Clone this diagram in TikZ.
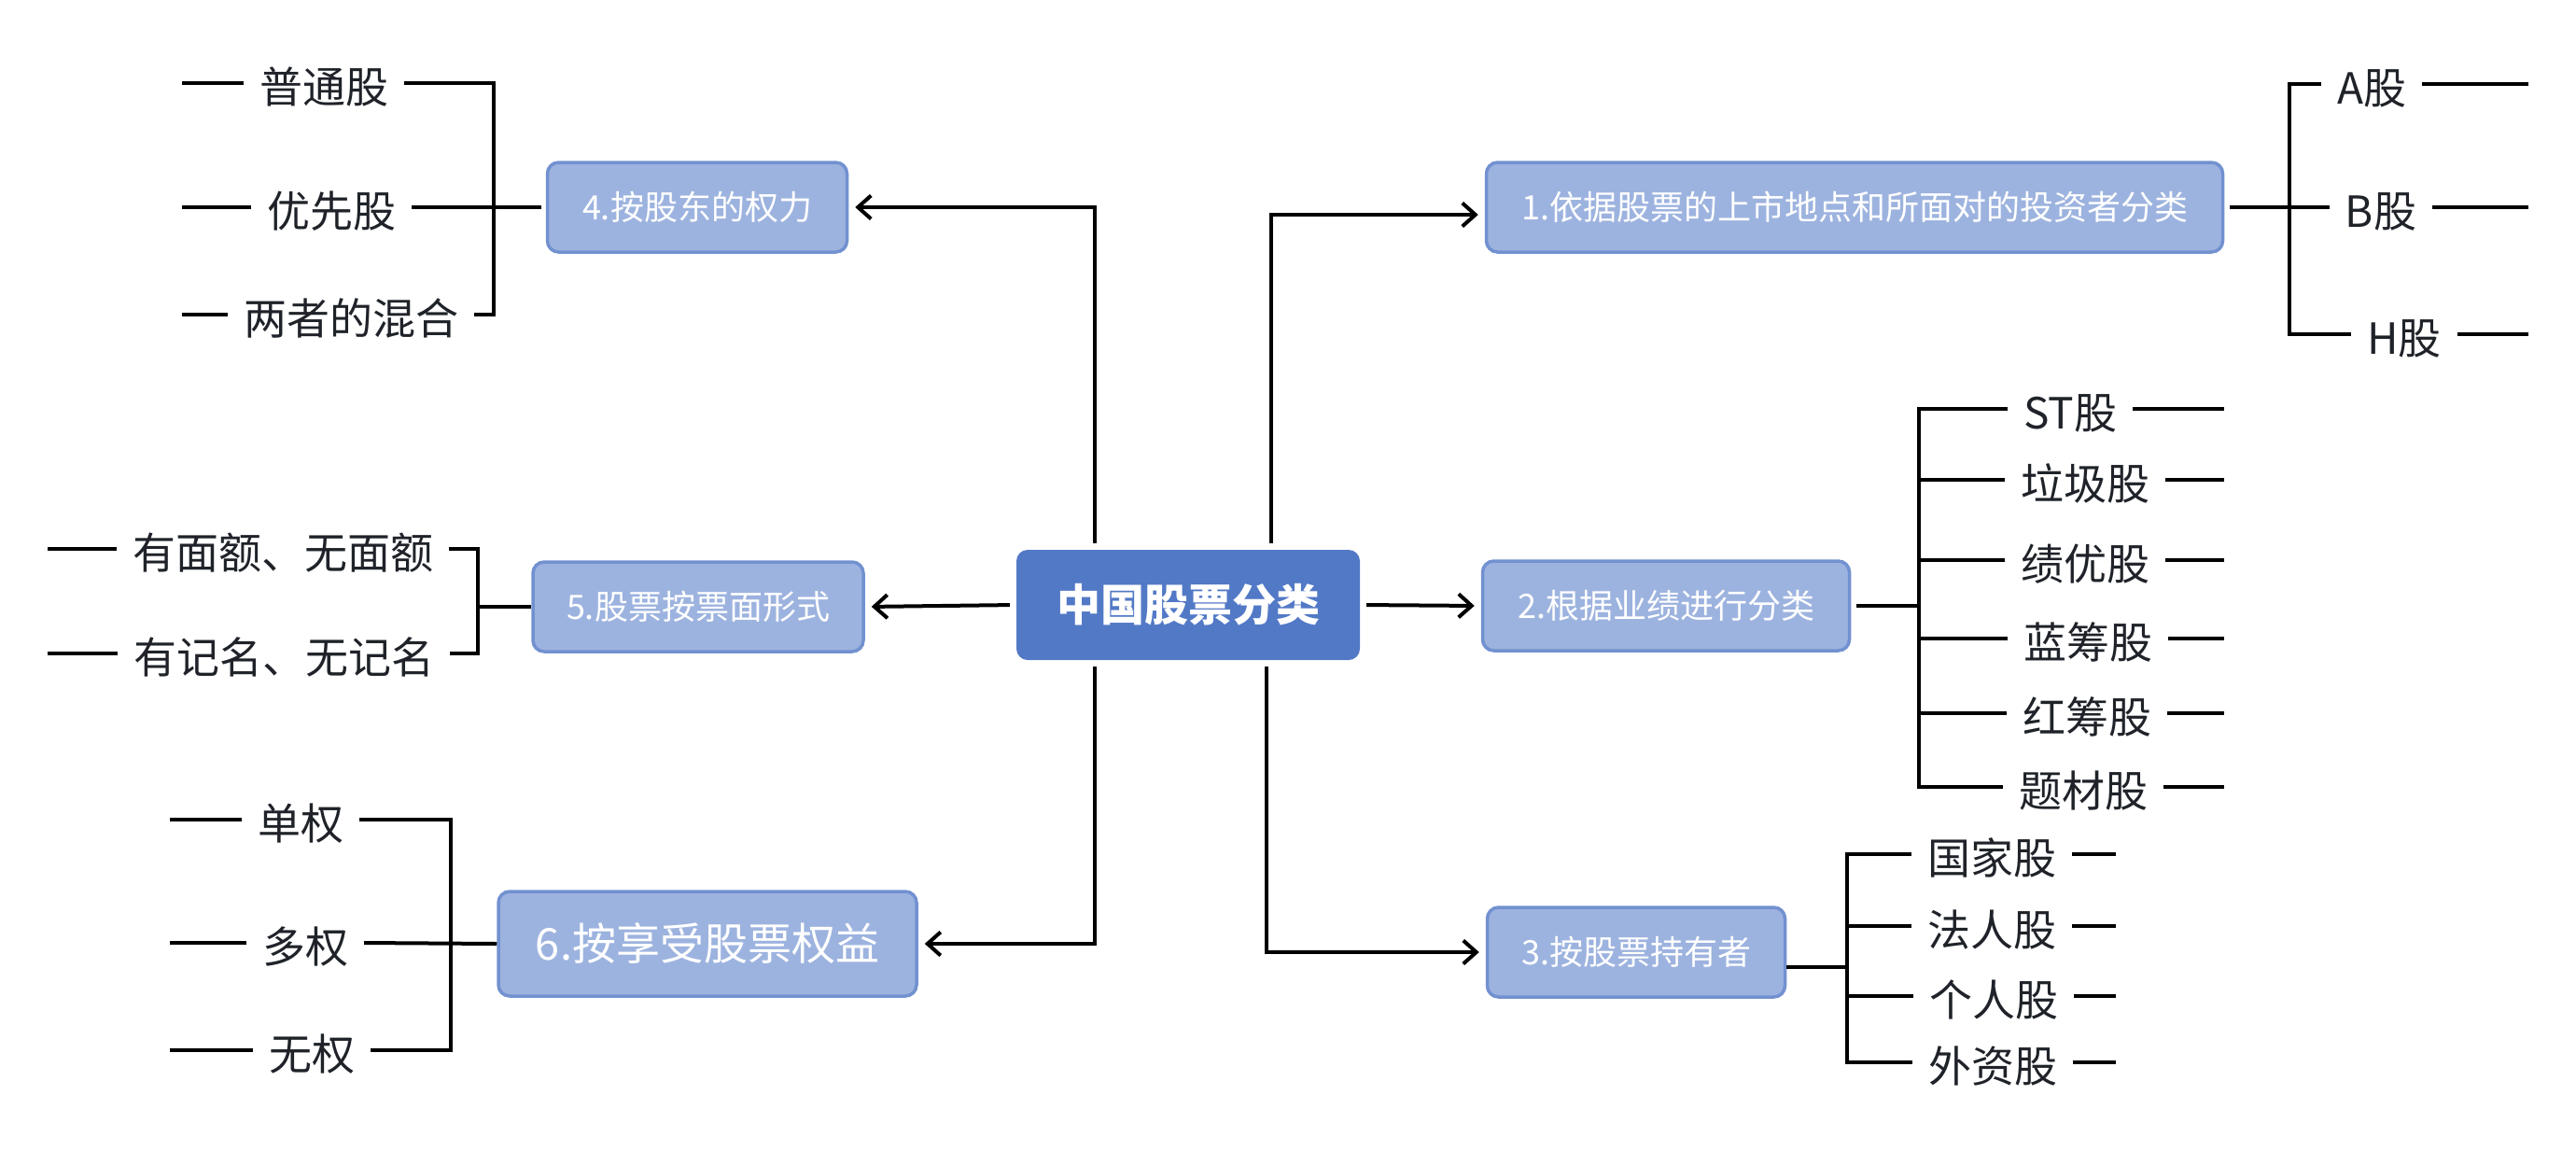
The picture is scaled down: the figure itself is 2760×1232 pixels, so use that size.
\documentclass[tikz,border=0pt]{standalone}
\usepackage{fontspec}
\setmainfont{Noto Sans CJK SC}
\usepackage{tikz}
\usetikzlibrary{arrows.meta}
\definecolor{catfill}{HTML}{9DB3DF}
\definecolor{catline}{HTML}{7291D0}
\definecolor{rootfill}{HTML}{5279C6}
\definecolor{leafink}{HTML}{1F2329}

\begin{document}
\begin{tikzpicture}[x=1pt,y=-1pt,
    catbox/.style={draw=catline,fill=catfill,line width=3.5pt,rounded corners=12pt,
      text=white,font=\fontsize{36}{40}\selectfont,inner sep=0pt,minimum height=96pt},
    rootbox/.style={fill=rootfill,rounded corners=12pt,text=white,
      font=\fontsize{47}{52}\selectfont\bfseries,inner sep=0pt,
      minimum width=368pt,minimum height=118pt},
    leaf/.style={text=leafink,font=\fontsize{46}{50}\selectfont,inner xsep=17pt,inner ysep=0pt,
      text height=47pt,text depth=5pt},
    link/.style={line width=4pt,-{Straight Barb[length=14pt,width=25pt]},
      shorten <=7pt,shorten >=7pt},
    branch/.style={line width=4pt,line join=miter}]
\useasboundingbox (0,0) rectangle (2760,1232);

% Root and the six categories
\node[rootbox] (root) at (1273,648) {中国股票分类};
\node[catbox,minimum width=789pt] (box1) at (1987,222) {1.依据股票的上市地点和所面对的投资者分类};
\node[catbox,minimum width=393pt] (box2) at (1785,649) {2.根据业绩进行分类};
\node[catbox,minimum width=319pt] (box3) at (1753,1020) {3.按股票持有者};
\node[catbox,minimum width=321pt] (box4) at (747,222) {4.按股东的权力};
\node[catbox,minimum width=354pt] (box5) at (748,650) {5.股票按票面形式};
\node[catbox,minimum width=448pt,minimum height=112pt,
  font=\fontsize{47}{52}\selectfont] (box6) at (758,1011) {6.按享受股票权益};

% Trunks leaving the root
\coordinate (trunkL) at (1173,0);
\coordinate (trunkR) at (1362,0);
\coordinate (trunkRb) at (1357,0);
\draw[link] (root.north -| trunkR) |- ([yshift=-8pt]box1.west);
\draw[link] (root.east) -- (box2.west);
\draw[link] (root.south -| trunkRb) |- (box3.west);
\draw[link] (root.north -| trunkL) |- (box4.east);
\draw[link] (root.west) -- (box5.east);
\draw[link] (root.south -| trunkL) |- (box6.east);

% Leaves
\foreach \name/\x/\y/\txt in {la/2541/90/A股, lb/2551/222/B股, lh/2576/358/H股,
    lst/2218/438/ST股, llj/2234/514/垃圾股, ljy/2234/600/绩优股,
    llc/2237/684/蓝筹股, lhc/2236/764/红筹股, ltc/2232/843/题材股,
    lgj/2134/915/国家股, lfr/2134/992/法人股, lgr/2136/1067/个人股, lwz/2135/1138/外资股,
    lpt/347/89/普通股, lyx/355/222/优先股, lhh/376/337/两者的混合,
    lmy/303/588/有面额、无面额, ljm/304/700/有记名、无记名,
    ldan/322/878/单权, ldq/327/1010/多权, lwq/334/1125/无权}
  \node[leaf] (\name) at (\x,\y) {\txt};

% Group 1
\coordinate (brk1) at (2453,0);
\coordinate (end1) at (2709,0);
\draw[branch,shorten <=6pt] (box1.east) -- (lb.west);
\draw[branch] (la.west) -| (brk1 |- lh.west) -- (lh.west);
\foreach \n in {la,lb,lh}
  \draw[branch] (\n.east) -- (\n.east -| end1);

% Group 2
\coordinate (brk2) at (2056,0);
\coordinate (end2) at (2383,0);
\draw[branch,shorten <=6pt] (box2.east) -- (box2.east -| brk2);
\draw[branch] (lst.west) -| (brk2 |- ltc.west) -- (ltc.west);
\foreach \n in {llj,ljy,llc,lhc}
  \draw[branch] (\n.west) -- (\n.west -| brk2);
\foreach \n in {lst,llj,ljy,llc,lhc,ltc}
  \draw[branch] (\n.east) -- (\n.east -| end2);

% Group 3
\coordinate (brk3) at (1979,0);
\coordinate (end3) at (2267,0);
\draw[branch] ([yshift=-16pt]box3.east) -- ([yshift=-16pt]box3.east -| brk3);
\draw[branch] (lgj.west) -| (brk3 |- lwz.west) -- (lwz.west);
\foreach \n in {lfr,lgr}
  \draw[branch] (\n.west) -- (\n.west -| brk3);
\foreach \n in {lgj,lfr,lgr,lwz}
  \draw[branch] (\n.east) -- (\n.east -| end3);

% Group 4
\coordinate (brk4) at (529,0);
\coordinate (end4) at (195,0);
\draw[branch,shorten <=5pt] (box4.west) -- (lyx.east);
\draw[branch] (lpt.east) -| (brk4 |- lhh.east) -- (lhh.east);
\foreach \n in {lpt,lyx,lhh}
  \draw[branch] (\n.west) -- (\n.west -| end4);

% Group 5
\coordinate (brk5) at (512,0);
\coordinate (end5) at (51,0);
\draw[branch] (box5.west) -- (box5.west -| brk5);
\draw[branch] (lmy.east) -| (brk5 |- ljm.east) -- (ljm.east);
\foreach \n in {lmy,ljm}
  \draw[branch] (\n.west) -- (\n.west -| end5);

% Group 6
\coordinate (brk6) at (483,0);
\coordinate (end6) at (182,0);
\draw[branch] (box6.west) -- (ldq.east);
\draw[branch] (ldan.east) -| (brk6 |- lwq.east) -- (lwq.east);
\foreach \n in {ldan,ldq,lwq}
  \draw[branch] (\n.west) -- (\n.west -| end6);
\end{tikzpicture}
\end{document}
